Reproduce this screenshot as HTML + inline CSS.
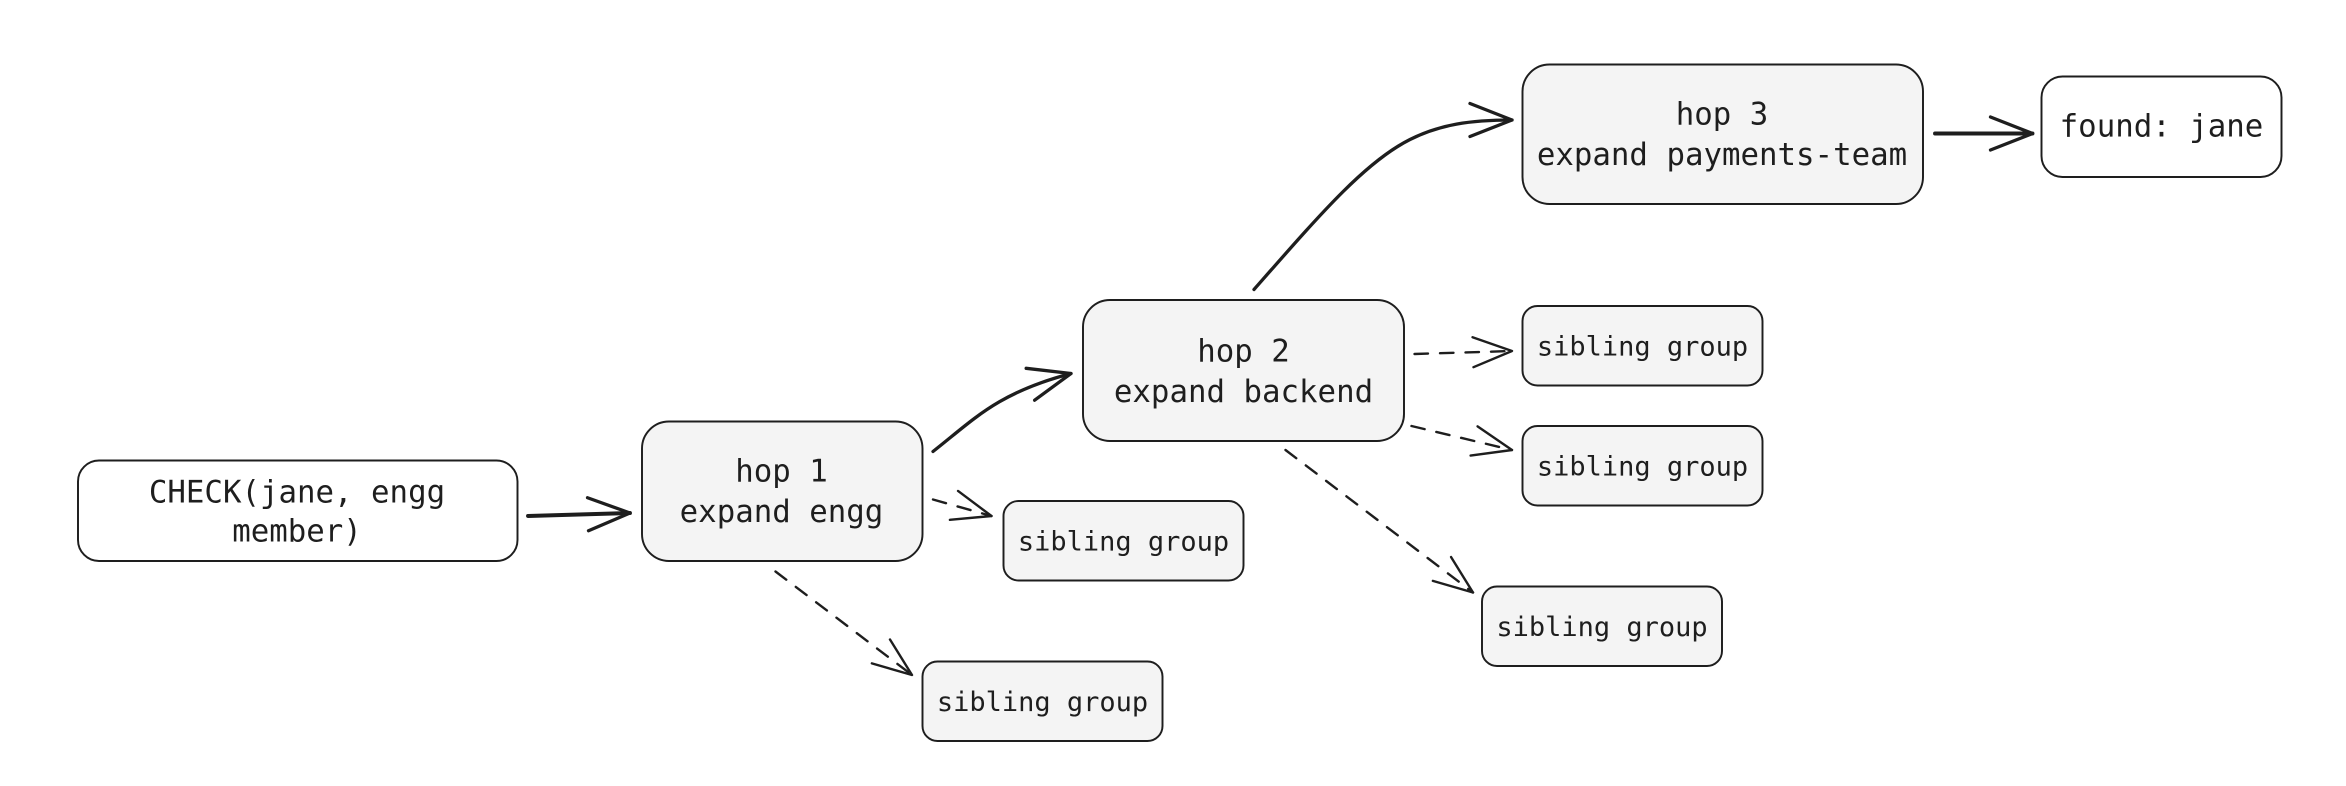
<!DOCTYPE html>
<html><head><meta charset="utf-8"><style>
html,body{margin:0;padding:0;background:#fff;}
svg{display:block;}
text{font-family:"DejaVu Sans Mono","Liberation Mono",monospace;fill:#1e1e1e;text-anchor:middle;}
</style></head><body>
<svg width="2346" height="786" viewBox="0 0 1564 524" xmlns="http://www.w3.org/2000/svg">
<defs>
<marker id="a" markerUnits="userSpaceOnUse" markerWidth="40" markerHeight="30" refX="30" refY="12" orient="auto" viewBox="0 0 40 24">
<path d="M2,1 L30,12 L2,23" fill="none" stroke="#1e1e1e" stroke-width="2.2" stroke-linecap="round" stroke-linejoin="round"/>
</marker>
<marker id="b" markerUnits="userSpaceOnUse" markerWidth="40" markerHeight="30" refX="30" refY="12" orient="auto" viewBox="0 0 40 24">
<path d="M4,2 L30,12 L4,22" fill="none" stroke="#1e1e1e" stroke-width="1.6" stroke-linecap="round" stroke-linejoin="round"/>
</marker>
</defs>
<g stroke="#1e1e1e" stroke-width="1.3">
<rect x="52" y="307" width="293" height="67" rx="14" fill="#fff"/>
<rect x="428" y="281" width="187" height="93" rx="18" fill="#f4f4f4"/>
<rect x="722" y="200" width="214" height="94" rx="18" fill="#f4f4f4"/>
<rect x="1015" y="43" width="267" height="93" rx="18" fill="#f4f4f4"/>
<rect x="1361" y="51" width="160" height="67" rx="14" fill="#fff"/>
<rect x="669" y="334" width="160" height="53" rx="10" fill="#f4f4f4"/>
<rect x="615" y="441" width="160" height="53" rx="10" fill="#f4f4f4"/>
<rect x="1015" y="204" width="160" height="53" rx="10" fill="#f4f4f4"/>
<rect x="1015" y="284" width="160" height="53" rx="10" fill="#f4f4f4"/>
<rect x="988" y="391" width="160" height="53" rx="10" fill="#f4f4f4"/>
</g>
<g fill="none" stroke="#1e1e1e" stroke-linecap="round">
<path d="M352,344 L420,342" stroke-width="2.6" marker-end="url(#a)"/>
<path d="M622,301 C650,279 665,262 714,249" stroke-width="2.2" marker-end="url(#a)"/>
<path d="M836,193 C880,143 910,108 940,93 C960,83 980,80 1008,80" stroke-width="2.2" marker-end="url(#a)"/>
<path d="M1290,89 L1355,89" stroke-width="2.6" marker-end="url(#a)"/>
<g stroke-width="1.6" stroke-dasharray="9 8">
<path d="M622,333 L661,344" marker-end="url(#b)"/>
<path d="M517,381 L608,450" marker-end="url(#b)"/>
<path d="M943,236 L1008,234" marker-end="url(#b)"/>
<path d="M941,284 L1008,300" marker-end="url(#b)"/>
<path d="M857,300 L982,395" marker-end="url(#b)"/>
</g>
</g>
<g font-size="20.5">
<text x="198" y="335">CHECK(jane, engg</text>
<text x="198" y="361">member)</text>
<text x="521" y="321">hop 1</text>
<text x="521" y="348">expand engg</text>
<text x="829" y="241">hop 2</text>
<text x="829" y="268">expand backend</text>
<text x="1148" y="83">hop 3</text>
<text x="1148" y="110">expand payments-team</text>
<text x="1441" y="91">found: jane</text>
</g>
<g font-size="18">
<text x="749" y="367">sibling group</text>
<text x="695" y="474">sibling group</text>
<text x="1095" y="237">sibling group</text>
<text x="1095" y="317">sibling group</text>
<text x="1068" y="424">sibling group</text>
</g>
</svg>
</body></html>
